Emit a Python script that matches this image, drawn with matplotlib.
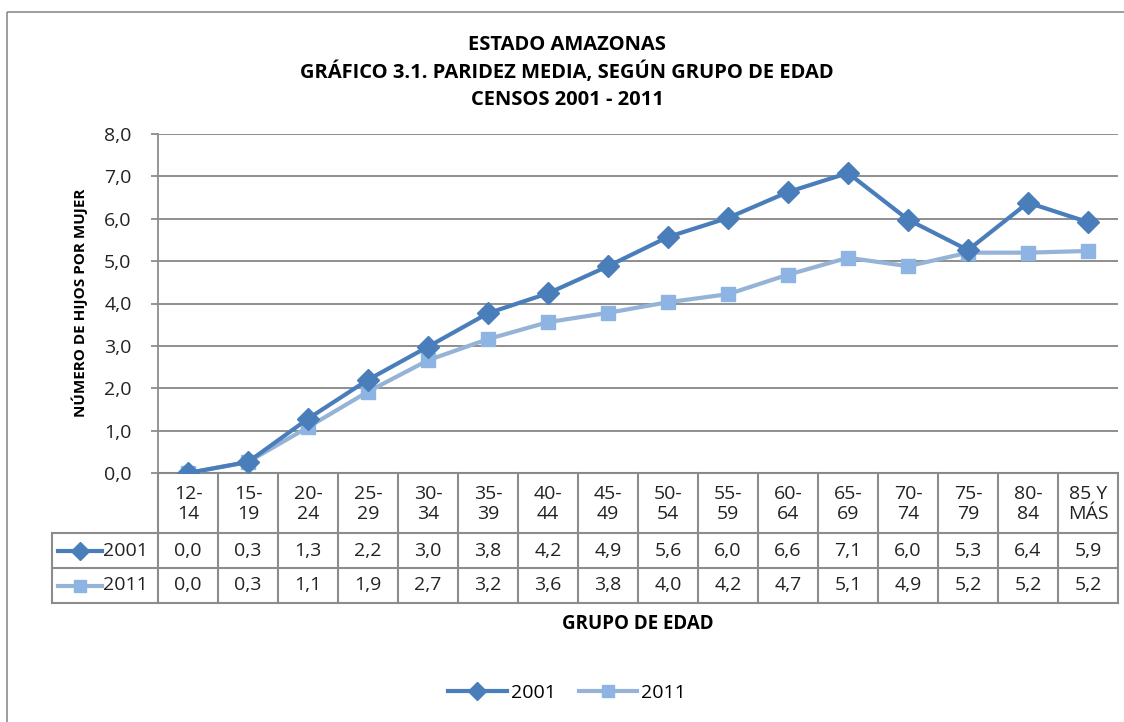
import numpy as np
import matplotlib
matplotlib.use('Agg')
import matplotlib.pyplot as plt
from matplotlib.lines import Line2D
from matplotlib.patches import Rectangle

plt.rcParams['font.family'] = ['Open Sans', 'DejaVu Sans']

# datos
grupos = ['12-\n14', '15-\n19', '20-\n24', '25-\n29', '30-\n34', '35-\n39', '40-\n44', '45-\n49',
          '50-\n54', '55-\n59', '60-\n64', '65-\n69', '70-\n74', '75-\n79', '80-\n84', '85 Y\nMÁS']
serie_2001 = [0.0, 0.26, 1.28, 2.2, 2.98, 3.77, 4.24, 4.88, 5.57, 6.02, 6.63, 7.08, 5.98, 5.26, 6.38, 5.92]
serie_2011 = [0.0, 0.26, 1.08, 1.92, 2.66, 3.16, 3.56, 3.78, 4.03, 4.22, 4.68, 5.08, 4.88, 5.2, 5.2, 5.24]
nombres = ['2001', '2011']

W, H = 1124, 722
c2001 = '#4a7ebb'
c2011_line = '#95b3d7'
c2011_mark = '#8eb4e3'
gris = '#8c8c8c'
txt = '#222222'
fs = 14

fig = plt.figure(figsize=(W / 100, H / 100), dpi=100)

# capa en pixeles para bordes y tabla
ov = fig.add_axes([0, 0, 1, 1])
ov.set_xlim(0, W)
ov.set_ylim(H, 0)
ov.axis('off')
ov.add_patch(Rectangle((7, 12), 1130, 730, fill=False, edgecolor=gris, lw=1.2))

x0, x1 = 158, 1118
ytop, ybot = 134, 473
ax = fig.add_axes([x0 / W, 1 - ybot / H, (x1 - x0) / W, (ybot - ytop) / H])
n = len(grupos)
xs = np.arange(n)
ax.plot(xs, serie_2001, color=c2001, lw=3, marker='D', ms=11, mfc=c2001, mec=c2001, zorder=4)
ax.plot(xs, serie_2011, color=c2011_line, lw=3, marker='s', ms=10.5, mfc=c2011_mark, mec=c2011_mark, zorder=3)
ax.set_xlim(-0.5, n - 0.5)
ax.set_ylim(0, 8)
ax.set_yticks(range(0, 9))
ax.set_yticklabels([f'{v:.1f}'.replace('.', ',') for v in range(0, 9)], fontsize=fs)
ax.set_xticks([])
ax.grid(axis='y', color='#868686', lw=1.3)
ax.set_axisbelow(True)
for s in ['top', 'right', 'bottom']:
    ax.spines[s].set_visible(False)
ax.spines['left'].set_color(gris)
ax.spines['left'].set_linewidth(1.3)
ax.tick_params(axis='y', length=5, color=gris, width=1.3, pad=14, labelcolor=txt)
ax.patch.set_alpha(0)

ov.text(80, 303, 'NÚMERO DE HIJOS POR MUJER', rotation=90, ha='center', va='center',
        fontsize=11, fontweight='bold')

# tabla de datos
colw = (x1 - x0) / n
rows = [473, 533, 568, 603]
xl = 52
lc = dict(color=gris, lw=1.5)
ov.plot([x0, x1], [rows[0], rows[0]], **lc)
for y in rows[1:]:
    ov.plot([xl, x1], [y, y], **lc)
ov.plot([xl, xl], [rows[1], rows[3]], **lc)
for i in range(n + 1):
    xx = x0 + i * colw
    ov.plot([xx, xx], [rows[0], rows[3]], **lc)
for i, g in enumerate(grupos):
    cx = x0 + (i + 0.5) * colw
    ov.text(cx, (rows[0] + rows[1]) / 2 + 1, g, ha='center', va='center', fontsize=fs,
            linespacing=1.12, color=txt)
    for r, serie in enumerate([serie_2001, serie_2011]):
        ov.text(cx, (rows[r + 1] + rows[r + 2]) / 2, f'{serie[i]:.1f}'.replace('.', ','),
                ha='center', va='center', fontsize=fs, color=txt)

# claves de leyenda en la tabla
estilos = [dict(color=c2001, marker='D', mfc=c2001, mec=c2001, ms=9),
           dict(color=c2011_line, marker='s', mfc=c2011_mark, mec=c2011_mark, ms=9)]
for r, (nom, st) in enumerate(zip(nombres, estilos)):
    yc = (rows[r + 1] + rows[r + 2]) / 2
    ov.plot([58, 102], [yc, yc], lw=3, **{k: v for k, v in st.items() if k != 'marker'})
    ov.plot([80], [yc], lw=0, **st)
    ov.text(103, yc, nom, ha='left', va='center', fontsize=fs, color=txt)

ov.text((x0 + x1) / 2, 624, 'GRUPO DE EDAD', ha='center', va='center', fontsize=13.5,
        fontweight='bold')

# titulo
titulo = ['ESTADO AMAZONAS', 'GRÁFICO 3.1. PARIDEZ MEDIA, SEGÚN GRUPO DE EDAD', 'CENSOS 2001 - 2011']
for k, t in enumerate(titulo):
    ov.text(567, 45 + k * 27.5, t, ha='center', va='center', fontsize=14.5, fontweight='bold')

# leyenda inferior
handles = [Line2D([], [], lw=3, **estilos[0]), Line2D([], [], lw=3, **estilos[1])]
fig.legend(handles, nombres, loc='center', bbox_to_anchor=(567 / W, 1 - 693 / H), ncol=2,
           frameon=False, fontsize=fs, handlelength=3, columnspacing=1.2, handletextpad=0.2)

fig.savefig('out.png', dpi=100)
